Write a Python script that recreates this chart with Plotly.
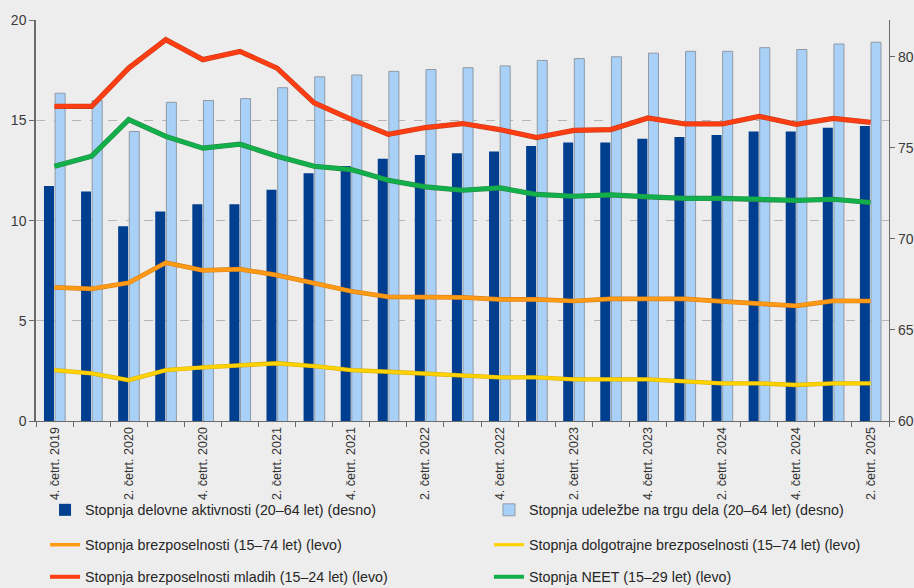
import plotly.graph_objects as go

quarters = [
    "4. četrt. 2019",
    "1. četrt. 2020", "2. četrt. 2020", "3. četrt. 2020", "4. četrt. 2020",
    "1. četrt. 2021", "2. četrt. 2021", "3. četrt. 2021", "4. četrt. 2021",
    "1. četrt. 2022", "2. četrt. 2022", "3. četrt. 2022", "4. četrt. 2022",
    "1. četrt. 2023", "2. četrt. 2023", "3. četrt. 2023", "4. četrt. 2023",
    "1. četrt. 2024", "2. četrt. 2024", "3. četrt. 2024", "4. četrt. 2024",
    "1. četrt. 2025", "2. četrt. 2025",
]

# right axis (desno)
activity_rate = [72.9, 72.6, 70.7, 71.5, 71.9, 71.9, 72.7, 73.6, 74.0, 74.4, 74.6, 74.7,
                 74.8, 75.1, 75.3, 75.3, 75.5, 75.6, 75.7, 75.9, 75.9, 76.1, 76.2]
participation_rate = [78.0, 77.6, 75.9, 77.5, 77.6, 77.7, 78.3, 78.9, 79.0, 79.2, 79.3, 79.4,
                      79.5, 79.8, 79.9, 80.0, 80.2, 80.3, 80.3, 80.5, 80.4, 80.7, 80.8]

# left axis (levo)
unemployment = [6.67, 6.60, 6.90, 7.90, 7.52, 7.58, 7.28, 6.90, 6.48, 6.20, 6.20, 6.17,
                6.07, 6.07, 5.99, 6.10, 6.10, 6.10, 5.97, 5.85, 5.75, 6.00, 5.99]
long_term_unemployment = [2.54, 2.38, 2.04, 2.54, 2.68, 2.79, 2.88, 2.74, 2.54, 2.46, 2.38, 2.29,
                          2.18, 2.18, 2.08, 2.08, 2.08, 1.98, 1.88, 1.88, 1.80, 1.88, 1.88]
youth_unemployment = [15.71, 15.71, 17.62, 19.04, 18.04, 18.45, 17.62, 15.88, 15.06, 14.31, 14.65, 14.85,
                      14.55, 14.15, 14.51, 14.55, 15.13, 14.83, 14.83, 15.21, 14.81, 15.11, 14.91]
neet = [12.72, 13.22, 15.05, 14.21, 13.62, 13.82, 13.22, 12.72, 12.55, 12.02, 11.69, 11.52,
        11.64, 11.31, 11.22, 11.29, 11.19, 11.11, 11.11, 11.09, 11.01, 11.07, 10.91]

names = [
    "Stopnja delovne aktivnosti (20–64 let) (desno)",
    "Stopnja udeležbe na trgu dela (20–64 let) (desno)",
    "Stopnja brezposelnosti (15–74 let) (levo)",
    "Stopnja dolgotrajne brezposelnosti (15–74 let) (levo)",
    "Stopnja brezposelnosti mladih (15–24 let) (levo)",
    "Stopnja NEET (15–29 let) (levo)",
]

x = list(range(len(quarters)))
BG = "#ededed"
FONT = "Liberation Sans, Arial, sans-serif"

fig = go.Figure()
fig.add_trace(go.Bar(x=x, y=activity_rate, name=names[0], yaxis="y",
                     marker=dict(color="#003f8f", line=dict(width=0)), legend="legend"))
fig.add_trace(go.Bar(x=x, y=participation_rate, name=names[1], yaxis="y",
                     marker=dict(color="#a9d0f7", line=dict(color="#8f9aa6", width=1)), legend="legend2"))

line_specs = [
    (unemployment, names[2], "#ff9a14", "#d9801a", 3.5, "legend3"),
    (long_term_unemployment, names[3], "#ffd200", "#d8b000", 3.2, "legend4"),
    (youth_unemployment, names[4], "#ff3d12", "#c8401e", 4, "legend5"),
    (neet, names[5], "#12b04a", "#2a8a4a", 4, "legend6"),
]
for vals, nm, col, edge, w, lg in line_specs:
    fig.add_trace(go.Scatter(x=x, y=vals, yaxis="y2", mode="lines", showlegend=False,
                             hoverinfo="skip", line=dict(color=edge, width=w + 1.2)))
    fig.add_trace(go.Scatter(x=x, y=vals, name=nm, yaxis="y2", mode="lines",
                             line=dict(color=col, width=w), legend=lg))

tick_font = dict(family=FONT, size=14, color="#3a3a3a")
AXIS = "#6a6a6a"


def leg(xp, yp):
    return dict(orientation="h", xanchor="left", yanchor="middle", x=xp, y=yp,
                bgcolor="rgba(0,0,0,0)", font=dict(family=FONT, size=14.3, color="#262626"),
                itemwidth=30)


col1, col2 = 0.0106, 0.531
row1, row2, row3 = -0.222, -0.309, -0.389

fig.update_layout(
    width=914, height=588,
    margin=dict(l=36, r=25, t=20, b=167, autoexpand=False),
    paper_bgcolor=BG, plot_bgcolor=BG,
    barmode="group", bargap=0.4, bargroupgap=0.1,
    font=dict(family=FONT),
    xaxis=dict(range=[-0.5, len(quarters) - 0.5], tickmode="array",
               tickvals=x[::2], ticktext=quarters[::2], tickangle=-90,
               ticks="", showgrid=False, showline=True, linecolor=AXIS, linewidth=1.3,
               tickfont=dict(family=FONT, size=12.5, color="#333333"), automargin=False,
               minor=dict(tickmode="array", tickvals=[i - 0.5 for i in x] + [len(x) - 0.5],
                          ticks="outside", ticklen=5, tickcolor=AXIS, showgrid=False),
               zeroline=False),
    yaxis=dict(side="right", range=[60, 82.02], tickvals=[60, 65, 70, 75, 80],
               showgrid=False, showline=True, linecolor=AXIS, linewidth=1.3,
               ticks="outside", ticklen=5, tickcolor=AXIS, tickfont=tick_font,
               zeroline=False, automargin=False),
    yaxis2=dict(side="left", overlaying="y", range=[0, 20.02], tickvals=[0, 5, 10, 15, 20],
                showgrid=True, gridcolor="#b5b5b5", griddash="dash", gridwidth=1,
                showline=True, linecolor=AXIS, linewidth=1.5,
                ticks="outside", ticklen=5, tickcolor=AXIS, tickfont=tick_font,
                zeroline=False, automargin=False),
    legend=leg(col1, row1),
    legend2=leg(col2, row1),
    legend3=leg(col1, row2),
    legend4=leg(col2, row2),
    legend5=leg(col1, row3),
    legend6=leg(col2, row3),
    showlegend=True,
)

fig.write_html("out.html", config={"displayModeBar": False},
               post_script="document.body.style.margin='0px';document.body.style.overflow='hidden';")
